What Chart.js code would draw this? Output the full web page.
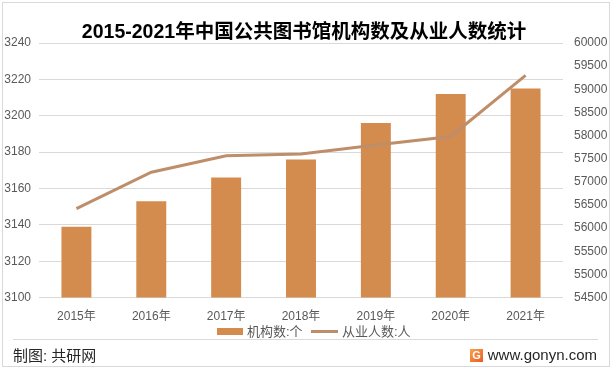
<!DOCTYPE html>
<html>
<head>
<meta charset="utf-8">
<script src="https://cdn.jsdelivr.net/npm/chart.js@4.4.1/dist/chart.umd.min.js"></script>
<style>
  html, body { margin: 0; padding: 0; background: #fff; }
  #wrap { width: 612px; height: 371px; }
</style>
</head>
<body>
<div id="wrap"><canvas id="myChart" width="612" height="371"></canvas></div>
<script>
var years = ['2015年', '2016年', '2017年', '2018年', '2019年', '2020年', '2021年'];
var libraryCount = [3139, 3153, 3166, 3176, 3196, 3212, 3215];
var staffCount = [56422, 57208, 57564, 57602, 57796, 57980, 59301];
var leftTicks = [3100, 3240, 20];
var rightTicks = [54500, 60000, 500];

var font = "'Liberation Sans', 'Noto Sans CJK SC', sans-serif";
var barColor = '#D38B4E';
var lineColor = '#BE8E6B';

var decor = {
    id: 'decor',
    afterDraw: function(chart) {
        var ctx = chart.ctx;
        ctx.save();
        // frame
        ctx.strokeStyle = '#d9d9d9';
        ctx.lineWidth = 1;
        ctx.strokeRect(2.5, 2.5, 607, 364);
        // title
        ctx.fillStyle = '#000';
        ctx.font = 'bold 19.5px ' + font;
        ctx.textAlign = 'center';
        ctx.textBaseline = 'middle';
        ctx.fillText('2015-2021年中国公共图书馆机构数及从业人数统计', 304, 33);
        // legend
        var ds = chart.data.datasets;
        ctx.font = '13px ' + font;
        ctx.textAlign = 'left';
        ctx.fillStyle = ds[0].backgroundColor;
        ctx.fillRect(217, 328, 26, 7);
        ctx.fillStyle = '#595959';
        ctx.fillText(ds[0].label, 247, 332);
        ctx.strokeStyle = ds[1].borderColor;
        ctx.lineWidth = 3;
        ctx.beginPath();
        ctx.moveTo(311, 331.5);
        ctx.lineTo(338, 331.5);
        ctx.stroke();
        ctx.fillText(ds[1].label, 342, 332);
        // separator
        ctx.strokeStyle = '#d9d9d9';
        ctx.lineWidth = 1;
        ctx.beginPath();
        ctx.moveTo(13, 339.5);
        ctx.lineTo(598, 339.5);
        ctx.stroke();
        // footer
        ctx.fillStyle = '#262626';
        ctx.font = '15px ' + font;
        ctx.fillText('制图: 共研网', 13, 357);
        ctx.textAlign = 'right';
        ctx.fillText('www.gonyn.com', 597, 356);
        var g = ctx.createLinearGradient(470, 348, 483, 362);
        g.addColorStop(0, '#f7a64a');
        g.addColorStop(1, '#ee5a24');
        ctx.fillStyle = g;
        ctx.fillRect(470, 349, 13, 13);
        ctx.fillStyle = '#fff';
        ctx.font = 'bold 11px ' + font;
        ctx.textAlign = 'center';
        ctx.fillText('G', 476.5, 356);
        ctx.restore();
    }
};

function plain(v) { return String(v); }

var ctx = document.getElementById('myChart').getContext('2d');
var chart = new Chart(ctx, {
    data: {
        labels: years,
        datasets: [{
            type: 'bar',
            label: '机构数:个',
            data: libraryCount,
            backgroundColor: barColor,
            barPercentage: 0.4,
            categoryPercentage: 1,
            yAxisID: 'y',
            order: 2
        }, {
            type: 'line',
            label: '从业人数:人',
            data: staffCount,
            borderColor: lineColor,
            borderWidth: 3,
            pointRadius: 0,
            tension: 0,
            yAxisID: 'y1',
            order: 1
        }]
    },
    options: {
        responsive: false,
        animation: false,
        layout: { padding: { top: 43, bottom: 43, left: 0, right: 0 } },
        plugins: {
            legend: { display: false },
            title: { display: false },
            tooltip: { enabled: false }
        },
        scales: {
            x: {
                grid: { display: false },
                border: { display: false },
                ticks: { color: '#595959', font: { family: font, size: 12 }, padding: 4 }
            },
            y: {
                position: 'left',
                min: leftTicks[0],
                max: leftTicks[1],
                ticks: { stepSize: leftTicks[2], callback: plain, color: '#595959', font: { family: font, size: 12 }, padding: 8 },
                grid: { color: '#d9d9d9', drawTicks: false },
                border: { display: false },
                afterFit: function(scale) { scale.width = 39; }
            },
            y1: {
                position: 'right',
                min: rightTicks[0],
                max: rightTicks[1],
                ticks: { stepSize: rightTicks[2], callback: plain, color: '#595959', font: { family: font, size: 12 }, padding: 11 },
                grid: { display: false, drawTicks: false },
                border: { display: false },
                afterFit: function(scale) { scale.width = 49; }
            }
        }
    },
    plugins: [decor]
});
</script>
</body>
</html>
